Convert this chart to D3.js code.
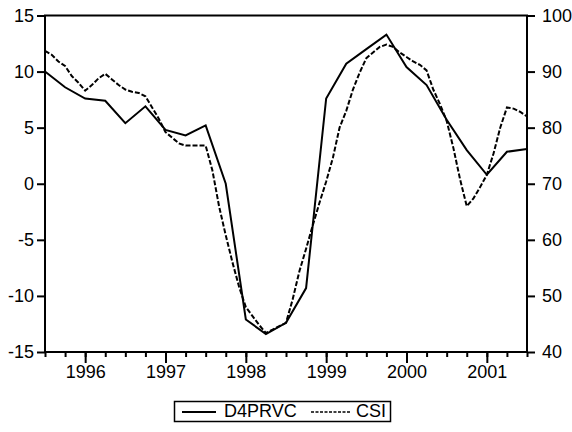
<!DOCTYPE html>
<html lang="en">
<head>
  <meta charset="UTF-8">
  <title>D4PRVC and CSI</title>
  <script src="https://cdn.jsdelivr.net/npm/d3@7/dist/d3.min.js"></script>
  <style>
    body { margin: 0; background: #fff; }
    text { font-family: Arial, "Liberation Sans", sans-serif; font-size: 18px; fill: #000; }
  </style>
</head>
<body>
  <div id="chart"></div>

  <script>
    // Quarterly series, 1995Q3 .. 2001Q3 (left axis)
    var d4prvc = [10.0, 8.6, 7.6, 7.4, 5.4, 6.9, 4.8, 4.3, 5.2, 0.0,
      -12.1, -13.4, -12.4, -9.3, 7.6, 10.7, 12.0, 13.3, 10.4, 8.8,
      5.7, 3.0, 0.8, 2.85, 3.1];

    // Monthly series, 1995M7 .. 2001M7 (right axis)
    var csi = [93.7, 93.0, 91.8, 91.0, 89.2, 88.0, 86.6, 87.6, 88.8, 89.6,
      88.6, 87.6, 86.8, 86.4, 86.2, 85.6, 83.6, 81.6, 79.2, 78.2,
      77.2, 76.8, 76.8, 76.8, 76.8, 72.4, 66.0, 60.8, 56.0, 51.6,
      48.0, 46.4, 44.8, 43.4, 44.0, 44.6, 45.2, 49.4, 54.4, 58.4,
      62.6, 66.6, 70.4, 74.6, 80.0, 83.0, 86.8, 89.8, 92.4, 93.4,
      94.4, 94.8, 94.4, 93.4, 92.6, 91.8, 91.2, 90.2, 86.8, 84.2,
      81.2, 76.4, 70.8, 66.0, 67.4, 69.4, 71.6, 75.4, 80.0, 83.6,
      83.4, 82.8, 82.0];

    var startYear = 1995.5;
    var yearTicks = [1996, 1997, 1998, 1999, 2000, 2001];
    var leftTicks = [-15, -10, -5, 0, 5, 10, 15];
    var rightTicks = [40, 50, 60, 70, 80, 90, 100];
    var seriesNames = ["D4PRVC", "CSI"];

    var W = 572, H = 432;
    var plotL = 45, plotR = 527, plotT = 15.5, plotB = 352;

    // plain hyphen for negatives, like the original
    var fmt = function(d) { return String(d); };

    var svg = d3.select("#chart")
      .append("svg")
      .attr("width", W)
      .attr("height", H);

    var x = d3.scaleLinear().domain([1995.5, 2001.5]).range([plotL, plotR]);
    var yL = d3.scaleLinear().domain([-15, 15]).range([plotB, plotT]);
    var yR = d3.scaleLinear().domain([40, 100]).range([plotB, plotT]);

    // quarter ticks (minor) and year ticks (major)
    var quarterTicks = d3.range(0, 25).map(function(i) { return startYear + i / 4; });

    var xAxis = svg.append("g")
      .attr("transform", "translate(0," + plotB + ")")
      .call(d3.axisBottom(x).tickValues(quarterTicks).tickSize(5).tickFormat(""));
    xAxis.select(".domain").remove();
    xAxis.selectAll("line").attr("stroke-width", 2);

    var xMajor = svg.append("g")
      .attr("transform", "translate(0," + plotB + ")")
      .call(d3.axisBottom(x).tickValues(yearTicks).tickSize(11).tickPadding(2).tickFormat(fmt));
    xMajor.select(".domain").remove();
    xMajor.selectAll("line").attr("stroke-width", 2);
    xMajor.selectAll("text").style("font-size", "18px").attr("font-family", null);

    // Left axis
    var gL = svg.append("g")
      .attr("transform", "translate(" + plotL + ",0)")
      .call(d3.axisLeft(yL).tickValues(leftTicks).tickSize(8).tickPadding(3).tickFormat(fmt));
    gL.select(".domain").remove();
    gL.selectAll("line").attr("stroke-width", 2);
    gL.selectAll("text").style("font-size", "18px").attr("font-family", null);

    // Right axis
    var gR = svg.append("g")
      .attr("transform", "translate(" + plotR + ",0)")
      .call(d3.axisRight(yR).tickValues(rightTicks).tickSize(8).tickPadding(7).tickFormat(fmt));
    gR.select(".domain").remove();
    gR.selectAll("line").attr("stroke-width", 2);
    gR.selectAll("text").style("font-size", "18px").attr("font-family", null);

    // Lines
    var lineQ = d3.line()
      .x(function(d, i) { return x(startYear + i / 4); })
      .y(function(d) { return yL(d); });

    var lineM = d3.line()
      .x(function(d, i) { return x(startYear + i / 12); })
      .y(function(d) { return yR(d); });

    svg.append("path")
      .datum(csi)
      .attr("fill", "none")
      .attr("stroke", "#000")
      .attr("stroke-width", 2)
      .attr("stroke-dasharray", "5,2")
      .attr("d", lineM);

    svg.append("path")
      .datum(d4prvc)
      .attr("fill", "none")
      .attr("stroke", "#000")
      .attr("stroke-width", 2)
      .attr("d", lineQ);

    // Frame
    svg.append("rect")
      .attr("x", plotL)
      .attr("y", plotT)
      .attr("width", plotR - plotL)
      .attr("height", plotB - plotT)
      .attr("fill", "none")
      .attr("stroke", "#000")
      .attr("stroke-width", 2);

    // Legend
    var lg = svg.append("g");
    lg.append("rect")
      .attr("x", 174.5).attr("y", 401.5)
      .attr("width", 216).attr("height", 20)
      .attr("fill", "#fff").attr("stroke", "#000").attr("stroke-width", 1.5);
    lg.append("line")
      .attr("x1", 182).attr("x2", 216).attr("y1", 412).attr("y2", 412)
      .attr("stroke", "#000").attr("stroke-width", 2);
    lg.append("text").attr("x", 224).attr("y", 417).text(seriesNames[0]);
    lg.append("line")
      .attr("x1", 311).attr("x2", 350).attr("y1", 412).attr("y2", 412)
      .attr("stroke", "#000").attr("stroke-width", 1.5)
      .attr("stroke-dasharray", "3,1.5");
    lg.append("text").attr("x", 356).attr("y", 417).text(seriesNames[1]);
  </script>
</body>
</html>
